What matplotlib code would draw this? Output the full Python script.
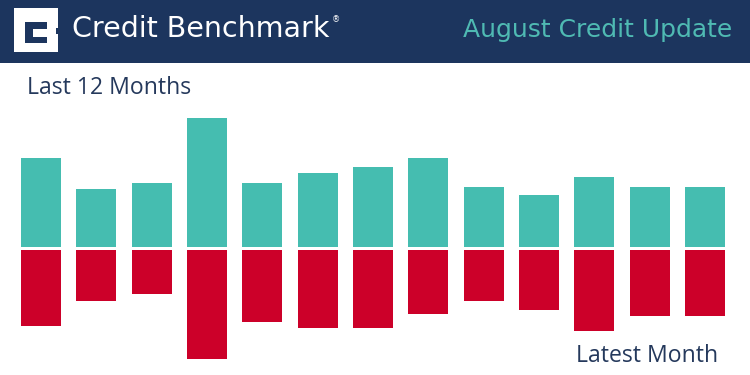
import matplotlib
matplotlib.use("Agg")
import matplotlib.pyplot as plt
from matplotlib.patches import Rectangle
import numpy as np

# Data (arbitrary units)
months = list(range(13))
upgrades = [8.95, 5.8, 6.4, 12.9, 6.4, 7.4, 8.0, 8.95, 6.0, 5.2, 7.0, 6.0, 6.0]
downgrades = [7.6, 5.07, 4.43, 10.9, 7.17, 7.8, 7.8, 6.4, 5.07, 6.0, 8.13, 6.6, 6.6]

title_left = "Credit Benchmark"
title_right = "August Credit Update"
label_top = "Last 12 Months"
label_bottom = "Latest Month"

NAVY = "#1c355e"
TEAL = "#45bdb0"
RED = "#cc0029"
TEAL_TXT = "#4fbab3"
DARK_TXT = "#25395c"

W, H = 750, 375
fig = plt.figure(figsize=(7.5, 3.75), dpi=100)
fig.patch.set_facecolor("white")

ax = fig.add_axes([0, 0, 1, 1])
ax.set_axis_off()
spacing = 55.33
x0 = 41
ax.set_xlim(-x0 / spacing, (W - x0) / spacing)
ax.set_ylim(-126.5 / 10, 248.5 / 10)

ax.bar(months, upgrades, width=0.72, color=TEAL, bottom=0.12, linewidth=0)
ax.bar(months, [-d for d in downgrades], width=0.72, color=RED, bottom=-0.13, linewidth=0)

# header band
fig.patches.append(Rectangle((0, 1 - 62.5 / H), 1, 62.5 / H, transform=fig.transFigure,
                             facecolor=NAVY, edgecolor="none", zorder=1))

def px(x, y, w, h, color):
    fig.patches.append(Rectangle((x / W, 1 - (y + h) / H), w / W, h / H,
                                 transform=fig.transFigure, facecolor=color,
                                 edgecolor="none", zorder=2))

# logo
px(14, 8, 44, 44, "white")
px(25, 22, 22, 21, NAVY)
px(33, 28.5, 14, 8, "white")
px(55.5, 28, 2.5, 6, NAVY)

t1 = fig.text(72 / W, 1 - 37 / H, title_left, color="white", fontsize=20.5,
              family="DejaVu Sans", ha="left", va="baseline", zorder=3)
fig.text(732 / W, 1 - 36.5 / H, title_right, color=TEAL_TXT, fontsize=18,
         family="DejaVu Sans", ha="right", va="baseline", zorder=3)

fig.canvas.draw()
bb = t1.get_window_extent()
fig.text((bb.x1 + 2) / W, 1 - 22 / H, "®", color="white", fontsize=6,
         family="DejaVu Sans", ha="left", va="baseline", zorder=3)

fig.text(27 / W, 1 - 94 / H, label_top, color=DARK_TXT, fontsize=16.6,
         family="Open Sans", ha="left", va="baseline")
fig.text(576 / W, 1 - 362 / H, label_bottom, color=DARK_TXT, fontsize=16.6,
         family="Open Sans", ha="left", va="baseline")

fig.savefig("out.png", dpi=100, facecolor="white")
